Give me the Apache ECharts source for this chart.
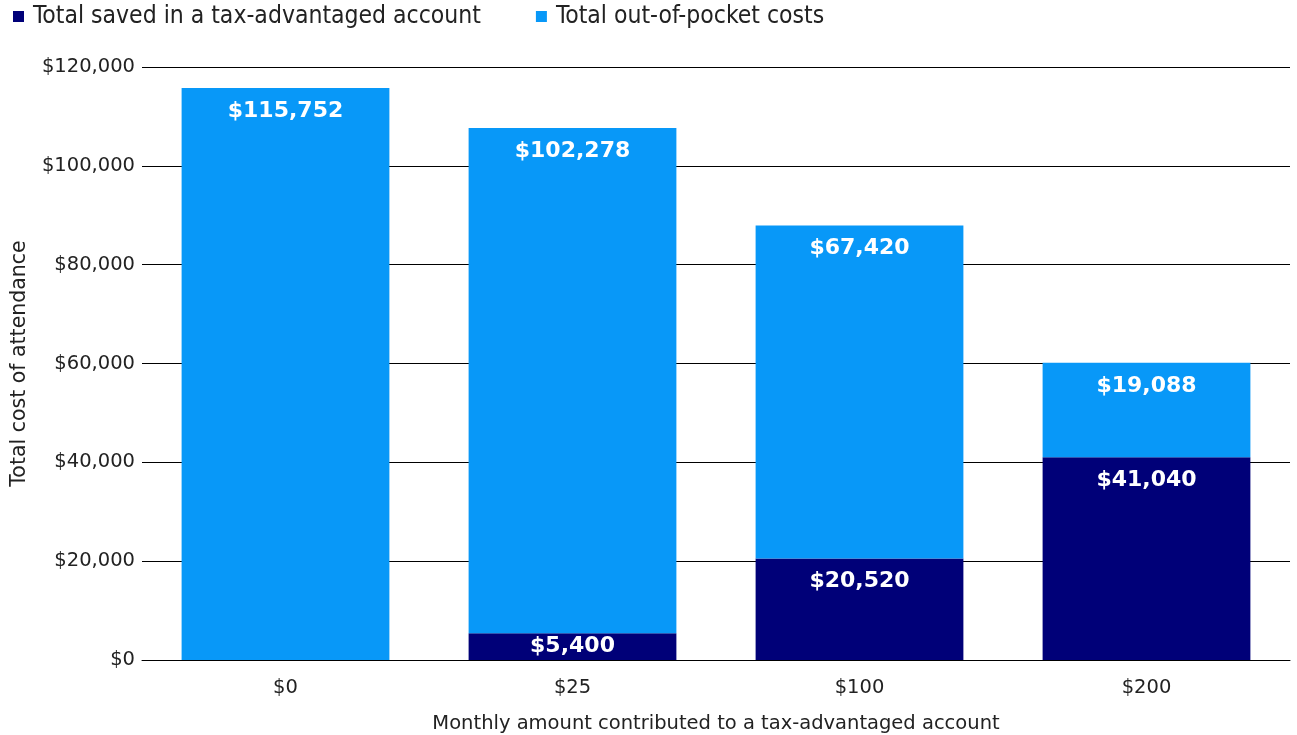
<!DOCTYPE html>
<html>
<head>
<meta charset="utf-8">
<script src="https://cdn.jsdelivr.net/npm/echarts@6/dist/echarts.min.js"></script>
<style>
  html, body { margin: 0; padding: 0; background: #fff; }
  #main { width: 1297px; height: 735px; }
</style>
</head>
<body>
<div id="main"></div>
<script>
// chart data
const categories = ['$0', '$25', '$100', '$200'];
const savedValues = [0, 5400, 20520, 41040];
const outOfPocketValues = [115752, 102278, 67420, 19088];
const yTicks = { min: 0, max: 120000, interval: 20000 };

const fmt = v => '$' + v.toLocaleString('en-US');

let myChart = echarts.init(document.getElementById('main'));

const labelBase = {
  show: true,
  color: '#fff',
  fontFamily: 'DejaVu Sans, sans-serif',
  fontWeight: 'bold',
  fontSize: 22,
  formatter: p => fmt(p.value)
};

myChart.setOption({
  animation: false,
  textStyle: { fontFamily: 'DejaVu Sans, sans-serif' },
  legend: {
    left: 8,
    top: -1,
    itemWidth: 11,
    itemHeight: 11,
    itemGap: 55,
    icon: 'rect',
    textStyle: {
      fontSize: 24.5,
      color: '#222',
      fontFamily: 'DejaVu Sans Condensed, sans-serif',
      padding: [0, 0, 0, 4]
    },
    data: ['Total saved in a tax-advantaged account', 'Total out-of-pocket costs']
  },
  grid: { left: 142, right: 7, top: 67, bottom: 75, outerBoundsMode: 'none' },
  xAxis: {
    type: 'category',
    data: categories,
    name: 'Monthly amount contributed to a tax-advantaged account',
    nameLocation: 'middle',
    nameGap: 54,
    nameTextStyle: { fontSize: 19.5, color: '#222' },
    axisLine: { lineStyle: { color: '#000', width: 1 } },
    axisTick: { show: false },
    axisLabel: { fontSize: 19.5, color: '#222', margin: 18 }
  },
  yAxis: {
    type: 'value',
    min: yTicks.min,
    max: yTicks.max,
    interval: yTicks.interval,
    name: 'Total cost of attendance',
    nameLocation: 'middle',
    nameGap: 112,
    nameTextStyle: { fontSize: 20.5, color: '#222' },
    axisLine: { show: false },
    axisTick: { show: false },
    axisLabel: { fontSize: 19.5, color: '#222', margin: 7, formatter: v => fmt(v) },
    splitLine: { lineStyle: { color: '#000', width: 1 } }
  },
  series: [
    {
      name: 'Total saved in a tax-advantaged account',
      type: 'bar',
      stack: 'total',
      barCategoryGap: '27.6%',
      itemStyle: { color: '#000078' },
      label: Object.assign({}, labelBase, {
        position: 'insideTop',
        distance: 12,
        formatter: p => (p.value ? fmt(p.value) : '')
      }),
      data: savedValues.map(v => v < 10000
        ? { value: v, label: { position: 'inside', distance: 0 } }
        : v)
    },
    {
      name: 'Total out-of-pocket costs',
      type: 'bar',
      stack: 'total',
      barCategoryGap: '27.6%',
      itemStyle: { color: '#0898f8' },
      label: Object.assign({}, labelBase, { position: 'insideTop', distance: 12 }),
      data: outOfPocketValues
    }
  ]
});
</script>
</body>
</html>
